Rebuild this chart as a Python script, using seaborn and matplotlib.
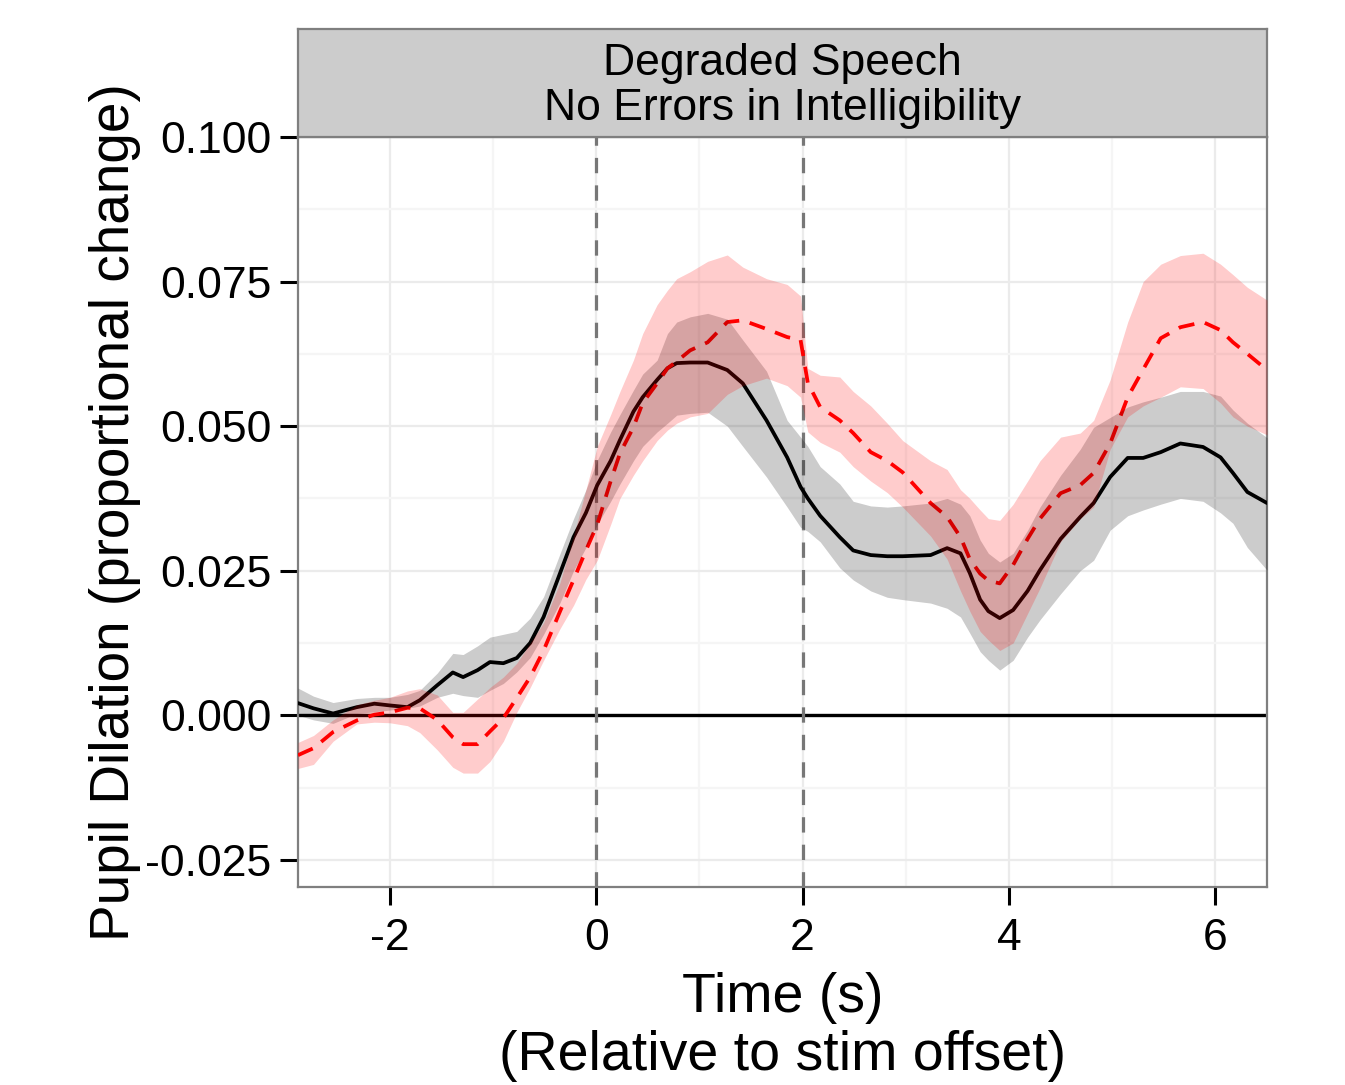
import numpy as np
import pandas as pd
import matplotlib
matplotlib.use("Agg")
import matplotlib.pyplot as plt
import seaborn as sns

# ---------------- data ----------------
time_s = [-2.89, -2.74, -2.55, -2.32, -2.15, -2.0, -1.83, -1.71, -1.54, -1.39,
          -1.29, -1.15, -1.03, -0.90, -0.77, -0.64, -0.51, -0.35, -0.22, -0.10,
          0.01, 0.14, 0.23, 0.36, 0.45, 0.59, 0.69, 0.78, 0.91, 1.08,
          1.27, 1.42, 1.65, 1.85, 1.98, 2.05, 2.17, 2.36, 2.49, 2.66,
          2.82, 2.97, 3.24, 3.40, 3.53, 3.62, 3.72, 3.80, 3.91, 4.04,
          4.18, 4.30, 4.50, 4.69, 4.82, 4.98, 5.15, 5.30, 5.47, 5.66,
          5.88, 6.05, 6.17, 6.31, 6.50]

black_mean = [0.0021, 0.0012, 0.0003, 0.0014, 0.0020, 0.0017, 0.0014, 0.0026, 0.0052, 0.0074,
              0.0066, 0.0078, 0.0092, 0.0090, 0.0099, 0.0125, 0.0170, 0.0246, 0.0308, 0.0350,
              0.0398, 0.0440, 0.0476, 0.0525, 0.0550, 0.0580, 0.0600, 0.0609, 0.0610, 0.0610,
              0.0597, 0.0574, 0.0510, 0.0446, 0.0395, 0.0375, 0.0345, 0.0308, 0.0285, 0.0277,
              0.0275, 0.0275, 0.0277, 0.0289, 0.0280, 0.0246, 0.0200, 0.0180, 0.0168, 0.0182,
              0.0215, 0.0251, 0.0305, 0.0343, 0.0367, 0.0412, 0.0445, 0.0445, 0.0455, 0.0470,
              0.0464, 0.0446, 0.0419, 0.0386, 0.0367]

black_upper = [0.0047, 0.0033, 0.0022, 0.0029, 0.0031, 0.0031, 0.0036, 0.0043, 0.0073, 0.0107,
               0.0105, 0.0120, 0.0135, 0.0140, 0.0145, 0.0168, 0.0205, 0.0280, 0.0340, 0.0390,
               0.0441, 0.0490, 0.0520, 0.0562, 0.0590, 0.0614, 0.0660, 0.0680, 0.0689, 0.0695,
               0.0685, 0.0649, 0.0595, 0.0510, 0.0481, 0.0465, 0.0430, 0.0400, 0.0370, 0.0362,
               0.0360, 0.0362, 0.0367, 0.0375, 0.0365, 0.0345, 0.0303, 0.0280, 0.0265, 0.0280,
               0.0320, 0.0360, 0.0415, 0.0460, 0.0498, 0.0515, 0.0533, 0.0542, 0.0550, 0.0560,
               0.0560, 0.0552, 0.0528, 0.0505, 0.0480]

black_lower = [0.0000, -0.0008, -0.0014, 0.0003, 0.0006, 0.0009, 0.0012, 0.0016, 0.0031, 0.0038,
               0.0034, 0.0031, 0.0043, 0.0055, 0.0075, 0.0100, 0.0140, 0.0195, 0.0250, 0.0290,
               0.0330, 0.0370, 0.0400, 0.0440, 0.0465, 0.0490, 0.0505, 0.0519, 0.0522, 0.0524,
               0.0500, 0.0465, 0.0412, 0.0360, 0.0325, 0.0318, 0.0300, 0.0255, 0.0234, 0.0215,
               0.0204, 0.0200, 0.0194, 0.0185, 0.0170, 0.0142, 0.0110, 0.0095, 0.0078, 0.0095,
               0.0135, 0.0165, 0.0210, 0.0250, 0.0268, 0.0320, 0.0345, 0.0355, 0.0365, 0.0375,
               0.0370, 0.0350, 0.0332, 0.0290, 0.0251]

red_mean = [-0.0069, -0.0057, -0.0029, -0.0009, 0.0001, 0.0005, 0.0013, 0.0012, -0.0008, -0.0038,
            -0.0050, -0.0050, -0.0028, -0.0005, 0.0030, 0.0066, 0.0112, 0.0180, 0.0234, 0.0285,
            0.0330, 0.0405, 0.0453, 0.0498, 0.0540, 0.0574, 0.0600, 0.0612, 0.0631, 0.0645,
            0.0680, 0.0683, 0.0668, 0.0654, 0.0649, 0.0575, 0.0533, 0.0510, 0.0488, 0.0455,
            0.0440, 0.0420, 0.0367, 0.0343, 0.0308, 0.0270, 0.0245, 0.0233, 0.0228, 0.0260,
            0.0305, 0.0340, 0.0384, 0.0398, 0.0419, 0.0470, 0.0550, 0.0598, 0.0652, 0.0671,
            0.0680, 0.0666, 0.0645, 0.0625, 0.0597]

red_upper = [-0.0047, -0.0035, -0.0008, 0.0018, 0.0026, 0.0031, 0.0042, 0.0046, 0.0035, 0.0005,
             0.0005, 0.0028, 0.0048, 0.0066, 0.0090, 0.0125, 0.0160, 0.0230, 0.0310, 0.0390,
             0.0465, 0.0520, 0.0560, 0.0614, 0.0660, 0.0710, 0.0735, 0.0755, 0.0767, 0.0785,
             0.0796, 0.0775, 0.0755, 0.0745, 0.0725, 0.0600, 0.0588, 0.0585, 0.0560, 0.0535,
             0.0505, 0.0475, 0.0440, 0.0425, 0.0390, 0.0375, 0.0355, 0.0340, 0.0337, 0.0365,
             0.0405, 0.0440, 0.0481, 0.0488, 0.0510, 0.0580, 0.0680, 0.0750, 0.0780, 0.0795,
             0.0799, 0.0780, 0.0762, 0.0740, 0.0718]

red_lower = [-0.0092, -0.0085, -0.0045, -0.0015, -0.0012, -0.0013, -0.0018, -0.0030, -0.0060, -0.0090,
             -0.0100, -0.0100, -0.0080, -0.0045, 0.0005, 0.0048, 0.0095, 0.0150, 0.0190, 0.0235,
             0.0268, 0.0330, 0.0375, 0.0415, 0.0440, 0.0475, 0.0493, 0.0505, 0.0516, 0.0522,
             0.0555, 0.0570, 0.0583, 0.0570, 0.0550, 0.0490, 0.0472, 0.0455, 0.0430, 0.0405,
             0.0385, 0.0360, 0.0310, 0.0270, 0.0215, 0.0180, 0.0145, 0.0130, 0.0112, 0.0125,
             0.0176, 0.0220, 0.0300, 0.0340, 0.0360, 0.0460, 0.0516, 0.0535, 0.0550, 0.0568,
             0.0565, 0.0540, 0.0516, 0.0500, 0.0485]

conditions = ["Correct", "Error"]
line_colors = {"Correct": "#000000", "Error": "#FF0000"}
x_ticks = [-2, 0, 2, 4, 6]
x_minor = [-1, 1, 3, 5]
y_ticks = [-0.025, 0.000, 0.025, 0.050, 0.075, 0.100]
y_minor = [-0.0125, 0.0125, 0.0375, 0.0625, 0.0875]
vlines_at = [0, 2]
strip_title = "Degraded Speech\nNo Errors in Intelligibility"
x_title = "Time (s)\n(Relative to stim offset)"
y_title = "Pupil Dilation (proportional change)"

# ---------------- figure ----------------
sns.set_style("white")
plt.rcParams["font.family"] = ["Liberation Sans", "DejaVu Sans"]

W, H = 1345, 1085
fig = plt.figure(figsize=(W / 100, H / 100), dpi=100)
L, R, T, B = 298, 1267, 137, 887
ax = fig.add_axes([L / W, 1 - B / H, (R - L) / W, (B - T) / H])

df = pd.DataFrame({
    "time": time_s * 2,
    "value": black_mean + red_mean,
    "condition": ["Correct"] * len(time_s) + ["Error"] * len(time_s),
})

ax.axhline(0, color="black", linewidth=2.4, zorder=2)
for v in vlines_at:
    ax.axvline(v, color="#777777", linewidth=2.3, dashes=(4.8, 3.8), zorder=2)

sns.lineplot(data=df, x="time", y="value", hue="condition", style="condition",
             palette=line_colors, dashes={"Correct": "", "Error": (4.3, 2.9)},
             linewidth=2.7, legend=False, ax=ax, zorder=3, estimator=None, sort=False)

ax.fill_between(time_s, black_lower, black_upper, color="black", alpha=0.2,
                linewidth=0, zorder=4)
ax.fill_between(time_s, red_lower, red_upper, color="red", alpha=0.2,
                linewidth=0, zorder=4)

# ticks and grid first, limits last (so nothing can widen them)
ax.set_xticks(x_ticks)
ax.set_yticks(y_ticks)
ax.set_xticks(x_minor, minor=True)
ax.set_yticks(y_minor, minor=True)
ax.set_xlim(-2.89, 6.5)
ax.set_ylim(-0.0297, 0.100)
ax.grid(True, which="major", color="#EBEBEB", linewidth=1.6)
ax.grid(True, which="minor", color="#F5F5F5", linewidth=1.6)
ax.set_axisbelow(True)

ax.set_xlabel("")
ax.set_ylabel("")
ax.set_xticklabels([str(t) for t in x_ticks])
ax.set_yticklabels([f"{t:.3f}" for t in y_ticks])
ax.tick_params(axis="both", which="major", length=13, width=2.2, color="black",
               labelsize=32, labelcolor="black", bottom=True, left=True)
ax.tick_params(axis="x", which="major", pad=9)
ax.tick_params(axis="y", which="major", pad=6)
ax.tick_params(axis="both", which="minor", length=0)
for s in ax.spines.values():
    s.set_color("#7F7F7F")
    s.set_linewidth(1.6)

# strip
sax = fig.add_axes([L / W, 1 - T / H, (R - L) / W, (T - 29) / H])
sax.set_facecolor("#CCCCCC")
sax.set_xticks([])
sax.set_yticks([])
for s in sax.spines.values():
    s.set_color("#7F7F7F")
    s.set_linewidth(1.6)
sax.text(0.5, 0.47, strip_title, ha="center", va="center", fontsize=32,
         linespacing=1.12, color="black", transform=sax.transAxes)

# axis titles
fig.text(((L + R) / 2) / W, 1 - 1027 / H, x_title, ha="center", va="center",
         fontsize=40, linespacing=1.15, color="black")
fig.text(115 / W, 1 - ((T + B) / 2) / H, y_title, ha="center", va="center",
         rotation=90, fontsize=39.5, color="black")

fig.savefig("out.png", dpi=100)
